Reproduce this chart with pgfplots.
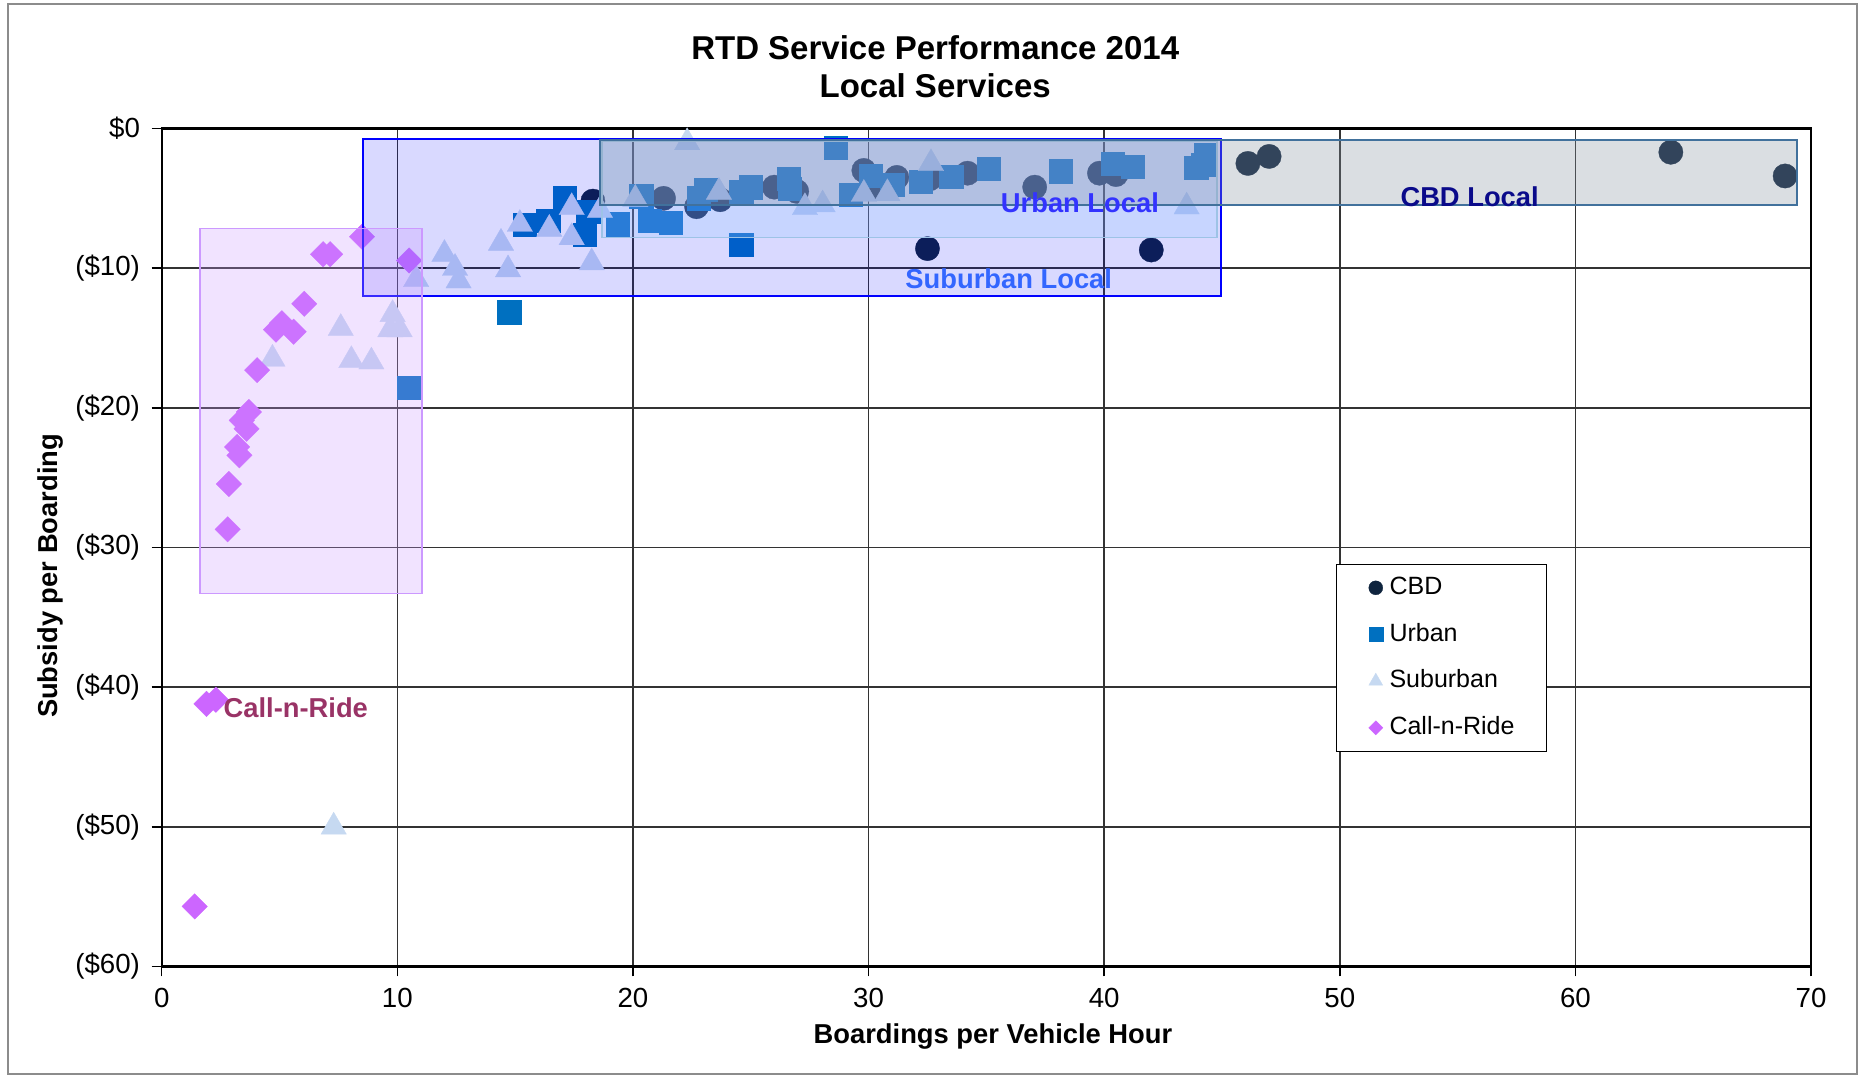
\documentclass[border=0pt]{standalone}
\usepackage{fontspec}
\setmainfont{Liberation Sans}
\usepackage{pgfplots}
\pgfplotsset{compat=1.18}
\definecolor{cbd}{HTML}{0F243E}
\definecolor{urban}{HTML}{0070C0}
\definecolor{suburban}{HTML}{C6D9F1}
\definecolor{cnr}{HTML}{CC66FF}
\definecolor{cbdbox}{RGB}{132,145,160}
\definecolor{cbdedge}{HTML}{41719C}
\definecolor{urbbox}{HTML}{99CCFF}
\definecolor{urbedge}{HTML}{9DC3E6}
\definecolor{cnrbox}{HTML}{CC99FF}
\definecolor{cbdtxt}{HTML}{0A0A8A}
\definecolor{urbtxt}{HTML}{3333FF}
\definecolor{subtxt}{HTML}{3366FF}
\definecolor{cnrtxt}{HTML}{993366}
\begin{document}
\begin{tikzpicture}
\path[use as bounding box] (-48.51pt,-32.85pt) rectangle (510.39pt,289.95pt);
\draw[black!45, line width=0.35pt] (-46.1pt,-32.25pt) rectangle (508.6pt,288.75pt);
\begin{axis}[
  at={(0pt,0pt)}, anchor=south west,
  scale only axis, width=494.8pt, height=251.4pt,
  clip mode=individual,
  xmin=0, xmax=70, ymin=-60, ymax=0,
  xtick={0,10,...,70},
  ytick={-60,-50,...,0},
  yticklabels={(\$60),(\$50),(\$40),(\$30),(\$20),(\$10),\$0},
  grid=major,
  major grid style={black!80, line width=0.45pt},
  axis line style={line width=0.7pt},
  tick style={black, line width=0.45pt},
  tick align=outside, major tick length=3pt, tick pos=left,
  tick label style={font=\fontsize{8.3}{10}\selectfont},
  /pgf/number format/assume math mode=true,
  xlabel={Boardings per Vehicle Hour},
  ylabel={Subsidy per Boarding},
  label style={font=\bfseries\fontsize{8.2}{10}\selectfont},
  xlabel style={at={(axis description cs:0.504,-0.083)}, anchor=center},
  ylabel style={at={(axis description cs:-0.0677,0.466)}, anchor=center},
  legend image code/.code={\path[draw=none,fill=none] (-11.8pt,-7pt) rectangle (1.2pt,7pt);\draw[#1] plot coordinates {(0pt,0pt)};},
  legend style={at={(axis cs:49.83,-31.17)}, anchor=north west, draw=black, line width=0.4pt,
    inner xsep=0pt, inner ysep=0pt, row sep=0pt,
    nodes={inner ysep=1pt},
    font=\fontsize{7.5}{9}\selectfont},
  legend cell align=left,
]
% CBD
\addplot[only marks, mark=*, mark size=3.65pt, color=cbd, mark options={line width=0.1pt}, legend image post style={mark size=2.1pt}] coordinates {
(18.3,-5.2) (21.3,-5.0) (22.7,-5.6) (23.7,-5.1) (26.0,-4.2) (26.95,-4.5)
(29.8,-3.0) (30.3,-4.2) (31.2,-3.5) (32.5,-8.6) (32.6,-3.6) (34.2,-3.2)
(37.05,-4.2) (39.8,-3.2) (40.5,-3.3) (42.0,-8.7) (46.1,-2.5) (47.0,-2.0)
(64.05,-1.7) (68.9,-3.4)
};
% Urban
\addplot[only marks, mark=square*, mark size=3.5pt, color=urban, mark options={line width=0.1pt}, legend image post style={mark size=2.1pt}] coordinates {
(10.5,-18.55) (14.75,-13.15) (15.4,-6.9) (16.4,-6.6) (17.1,-5.0) (18.1,-5.95)
(17.95,-7.6) (19.35,-6.85) (20.35,-4.85) (20.7,-6.6) (21.6,-6.75) (22.8,-5.0)
(23.1,-4.4) (24.6,-4.5) (25.0,-4.2) (24.6,-8.3) (26.6,-3.6) (26.65,-4.3)
(28.6,-1.35) (29.25,-4.75) (30.1,-3.4) (31.0,-4.0) (32.2,-3.8) (33.5,-3.45)
(35.1,-2.9) (38.15,-3.05) (40.35,-2.5) (41.2,-2.75) (43.9,-2.8) (44.3,-1.9) (44.2,-2.6)
};
% Suburban
\addplot[only marks, mark=triangle*, mark size=4.4pt, color=suburban, mark options={line width=0.1pt}, legend image post style={mark size=2.4pt}] coordinates {
(7.3,-50.0) (4.7,-16.5) (7.6,-14.3) (8.05,-16.6) (8.9,-16.7) (9.8,-13.3)
(9.7,-14.4) (10.1,-14.4) (10.8,-10.8) (12.0,-9.0) (12.45,-10.0) (12.6,-10.9)
(14.4,-8.2) (14.7,-10.1) (15.2,-6.85) (16.45,-7.2) (17.4,-5.65) (17.4,-7.8)
(18.25,-9.6) (18.6,-5.85) (20.1,-5.05) (22.3,-1.0) (23.65,-4.55) (27.3,-5.65)
(28.05,-5.45) (29.8,-4.7) (30.8,-4.65) (32.65,-2.5) (43.5,-5.6)
};
% Call-n-Ride
\addplot[only marks, mark=square*, mark size=2.7pt, color=cnr, mark options={line width=0.1pt, rotate=45}, legend image post style={mark size=1.5pt}] coordinates {
(1.4,-55.7) (1.9,-41.2) (2.3,-40.9) (2.8,-28.7) (2.85,-25.45) (3.2,-22.8)
(3.3,-23.4) (3.4,-20.9) (3.6,-21.5) (3.7,-20.3) (4.05,-17.3) (4.85,-14.4)
(5.1,-13.95) (5.6,-14.55) (6.05,-12.55) (6.85,-9.0) (7.15,-9.0) (8.5,-7.75)
(10.5,-9.45)
};
\legend{CBD,Urban,Suburban,Call-n-Ride\hspace*{7.5pt}}
% boxes
\draw[blue, line width=0.6pt, fill=blue, fill opacity=0.15] (axis cs:8.53,-0.75) rectangle (axis cs:44.95,-12.0);
\draw[cnrbox, line width=0.5pt, fill=cnrbox, fill opacity=0.27] (axis cs:1.63,-7.15) rectangle (axis cs:11.05,-33.3);
\draw[urbedge, line width=0.5pt, fill=urbbox, fill opacity=0.27] (axis cs:18.7,-0.94) rectangle (axis cs:44.8,-7.8);
\draw[cbdedge, line width=0.5pt, fill=cbdbox, fill opacity=0.3] (axis cs:18.6,-0.8) rectangle (axis cs:69.4,-5.5);
% annotations
\node[font=\bfseries\fontsize{8.2}{10}\selectfont, text=cbdtxt] at (axis cs:55.51,-4.92) {CBD Local};
\node[font=\bfseries\fontsize{8.2}{10}\selectfont, text=urbtxt] at (axis cs:38.97,-5.34) {Urban Local};
\node[font=\bfseries\fontsize{8.2}{10}\selectfont, text=subtxt] at (axis cs:35.95,-10.79) {Suburban Local};
\node[font=\bfseries\fontsize{8.2}{10}\selectfont, text=cnrtxt] at (axis cs:5.69,-41.48) {Call-n-Ride};
% title
\node[font=\bfseries\fontsize{9.9}{12}\selectfont] at (axis description cs:0.469,1.0967) {RTD Service Performance 2014};
\node[font=\bfseries\fontsize{9.9}{12}\selectfont] at (axis description cs:0.469,1.0513) {Local Services};
\end{axis}
\end{tikzpicture}
\end{document}
